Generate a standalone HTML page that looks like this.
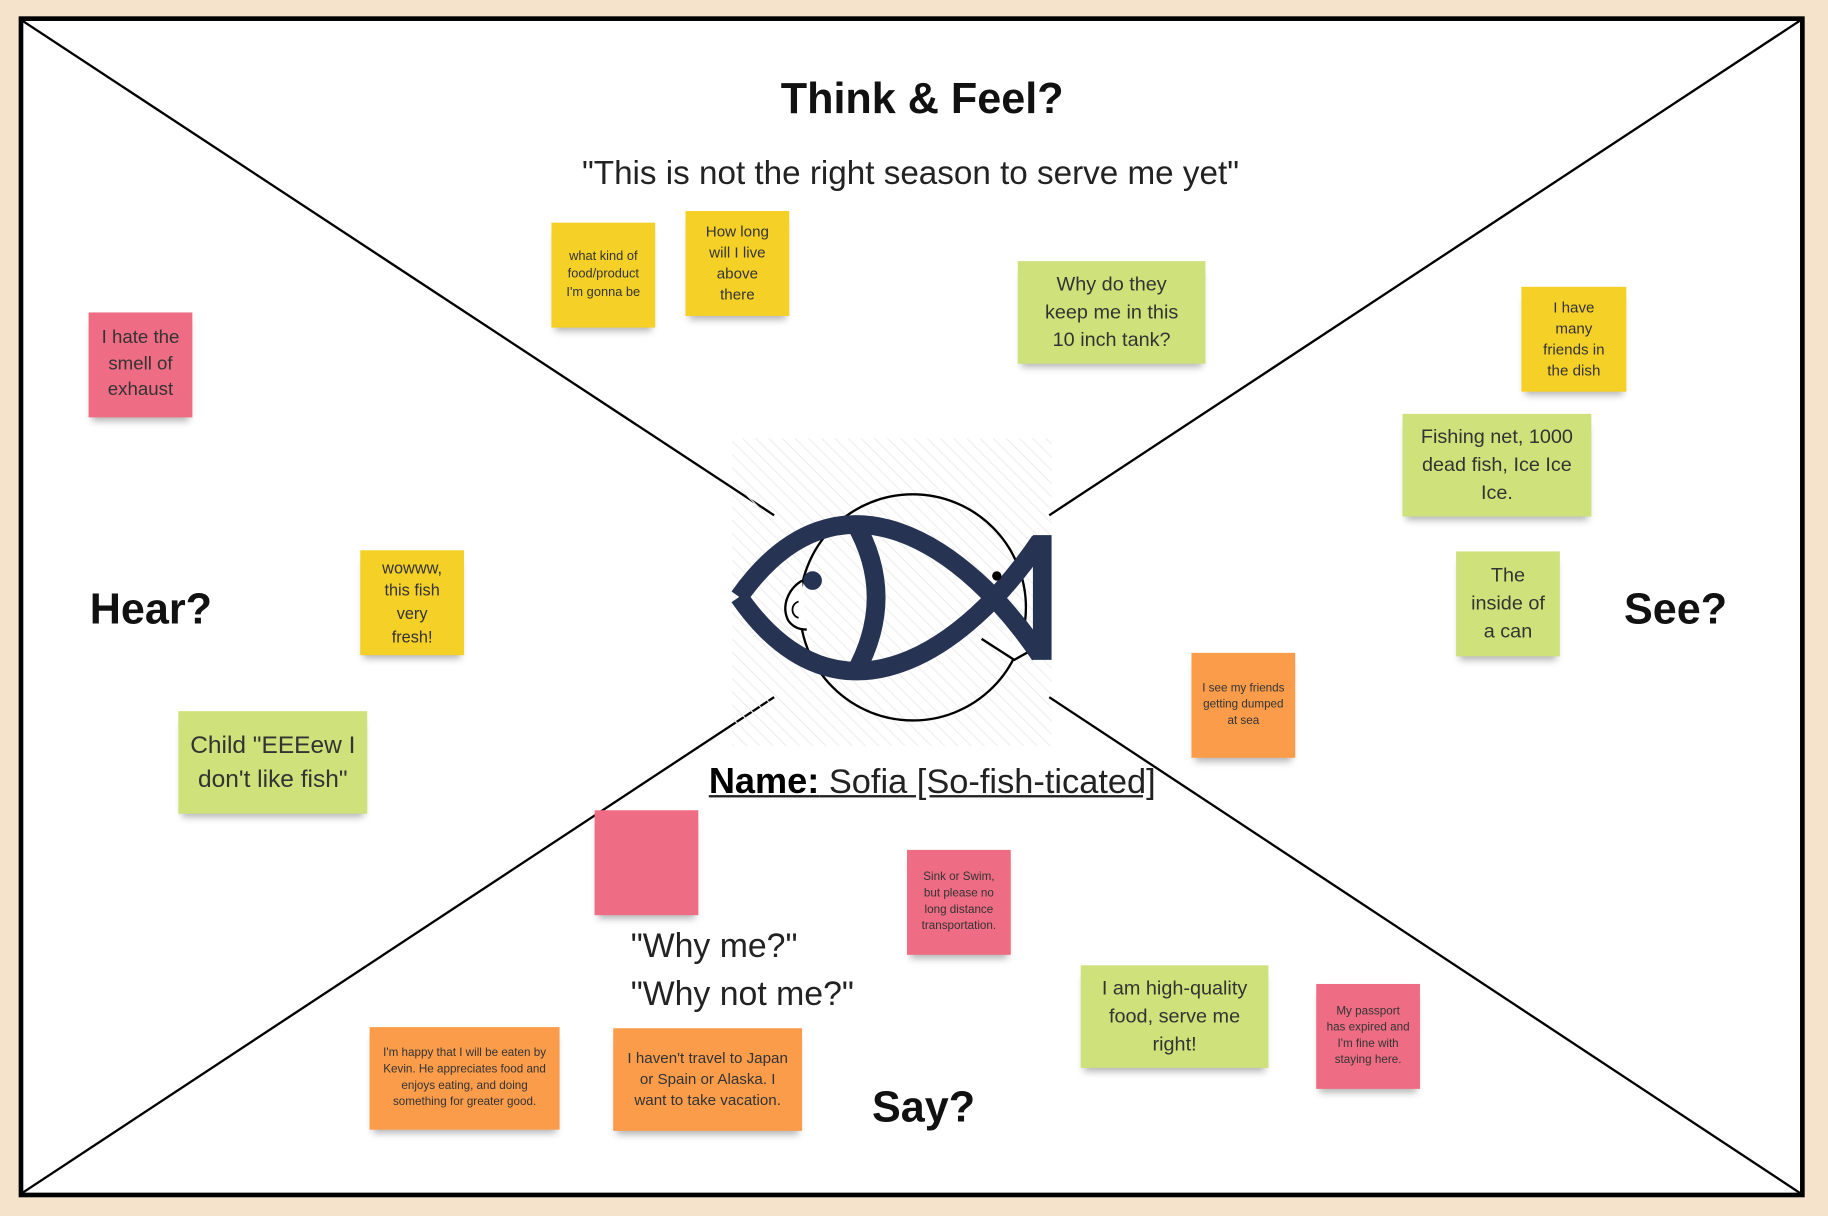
<!DOCTYPE html>
<html><head><meta charset="utf-8"><style>
html,body{margin:0;padding:0;background:#f5e3cc;overflow:hidden;width:1828px;height:1216px}
#w{position:absolute;left:0;top:0;width:1568px;height:1043px;transform:scale(1.16582);transform-origin:0 0;font-family:"Liberation Sans",sans-serif}
.s{position:absolute;display:flex;align-items:center;justify-content:center;text-align:center;color:#333;box-shadow:0 6px 6px -3px rgba(0,0,0,.3);line-height:1.4;box-sizing:border-box;padding:4px 8px}
.p{background:#ee6d84}.y{background:#f5d128}.g{background:#cee17a}.o{background:#fb9c4b}
.t{position:absolute;color:#111;white-space:nowrap}
</style></head><body><div id="w">
<svg width="1568" height="1043" style="position:absolute;left:0;top:0">
<defs><pattern id="h" width="8" height="8" patternUnits="userSpaceOnUse" patternTransform="rotate(-45)"><line x1="0" y1="0" x2="0" y2="8" stroke="#eee" stroke-width="2"/></pattern></defs>
<rect x="18" y="16" width="1528" height="1009" fill="#fff" stroke="#000" stroke-width="4"/>
<g stroke="#000" stroke-width="2">
<line x1="18" y1="17" x2="664" y2="442"/><line x1="1545" y1="17" x2="900" y2="442"/>
<line x1="18" y1="1024" x2="664" y2="598"/><line x1="1545" y1="1024" x2="900" y2="598"/></g>
<rect x="628" y="376" width="274" height="264" fill="url(#h)"/>
<circle cx="783" cy="521" r="97" fill="none" stroke="#000" stroke-width="2"/>
<path d="M842 548 L870 566 L895 552" fill="#fff" stroke="#000" stroke-width="2"/>
<path d="M688 498 C676 505 670 520 676 532 C680 538 686 540 692 540" fill="#fff" stroke="#000" stroke-width="2"/>
<path d="M685 516 C678 518 678 528 685 530" fill="none" stroke="#000" stroke-width="1.5"/>
<g fill="none" stroke="#263353" stroke-width="16">
<path d="M892 562 C830 470 720 390 634 512"/>
<path d="M892 464 C830 556 720 636 634 512"/>
<path d="M733 448 Q770 512 733 578"/>
</g>
<rect x="886" y="459" width="16" height="107" fill="#263353"/>
<circle cx="697" cy="498" r="8" fill="#263353"/>
<circle cx="855" cy="494" r="4" fill="#000"/>
</svg>
<div class="t" style="left:0;width:1582px;text-align:center;top:64px;font-size:37px;font-weight:bold">Think &amp; Feel?</div>
<div class="t" style="left:0;width:1562px;text-align:center;top:133px;font-size:28.5px;color:#222">"This is not the right season to serve me yet"</div>
<div class="t" style="left:77px;top:502px;font-size:37px;font-weight:bold">Hear?</div>
<div class="t" style="left:1393px;top:502px;font-size:37px;font-weight:bold">See?</div>
<div class="t" style="left:748px;top:929px;font-size:37px;font-weight:bold">Say?</div>
<div class="t" style="left:608px;top:652px;font-size:29.5px;text-decoration:underline;color:#222"><b style="font-size:31px;color:#000">Name:</b> Sofia [So-fish-ticated]</div>
<div class="t" style="left:541px;top:796px;font-size:29px;color:#222">"Why me?"</div>
<div class="t" style="left:541px;top:837px;font-size:29px;color:#222">"Why not me?"</div>
<div class="s p" style="left:76px;top:268px;width:89px;height:90px;font-size:16px">I hate the smell of exhaust</div>
<div class="s y" style="left:473px;top:191px;width:89px;height:90px;font-size:11px">what kind of food/product I'm gonna be</div>
<div class="s y" style="left:588px;top:181px;width:89px;height:90px;font-size:13px;padding:4px 14px">How long will I live above there</div>
<div class="s g" style="left:873px;top:224px;width:161px;height:88px;font-size:17px;padding:4px 14px">Why do they keep me in this 10 inch tank?</div>
<div class="s y" style="left:1305px;top:246px;width:90px;height:90px;font-size:13px;padding:4px 14px">I have many friends in the dish</div>
<div class="s g" style="left:1203px;top:355px;width:162px;height:88px;font-size:17px;padding:4px 14px">Fishing net, 1000 dead fish, Ice Ice Ice.</div>
<div class="s g" style="left:1249px;top:473px;width:89px;height:90px;font-size:17px;padding:4px 12px">The inside of a can</div>
<div class="s o" style="left:1022px;top:560px;width:89px;height:90px;font-size:10px">I see my friends getting dumped at sea</div>
<div class="s y" style="left:309px;top:472px;width:89px;height:90px;font-size:14px;padding:4px 12px">wowww, this fish very fresh!</div>
<div class="s g" style="left:153px;top:610px;width:162px;height:88px;font-size:21px">Child "EEEew I don't like fish"</div>
<div class="s p" style="left:510px;top:695px;width:89px;height:90px"></div>
<div class="s p" style="left:778px;top:729px;width:89px;height:90px;font-size:10px">Sink or Swim, but please no long distance transportation.</div>
<div class="s g" style="left:927px;top:828px;width:161px;height:88px;font-size:17px;padding:4px 12px">I am high-quality food, serve me right!</div>
<div class="s p" style="left:1129px;top:844px;width:89px;height:90px;font-size:10px">My passport has expired and I'm fine with staying here.</div>
<div class="s o" style="left:317px;top:881px;width:163px;height:88px;font-size:10px">I'm happy that I will be eaten by Kevin. He appreciates food and enjoys eating, and doing something for greater good.</div>
<div class="s o" style="left:526px;top:882px;width:162px;height:88px;font-size:13px;padding:4px 12px">I haven't travel to Japan or Spain or Alaska. I want to take vacation.</div>
</div></body></html>
